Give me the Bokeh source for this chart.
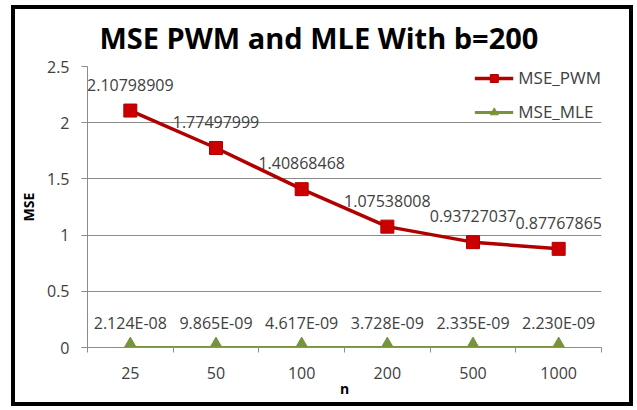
import numpy as np
from bokeh.plotting import figure
from bokeh.models import (ColumnDataSource, Range1d, FixedTicker, CustomJSTickFormatter,
                          Legend, LegendItem)
from bokeh.embed import file_html
from bokeh.resources import INLINE
from bokeh.core.properties import value

# ---- data ----
n_labels = ["25", "50", "100", "200", "500", "1000"]
mse_pwm = [2.10798909, 1.77497999, 1.40868468, 1.07538008, 0.93727037, 0.87767865]
mse_mle = [2.124e-08, 9.865e-09, 4.617e-09, 3.728e-09, 2.335e-09, 2.230e-09]
y_ticks = [0, 0.5, 1, 1.5, 2, 2.5]
title_text = "MSE PWM and MLE With b=200"

FONT = "Open Sans"
TXT = "#404040"
GRID = "#8c8c8c"
PWM_LINE = "#b00000"
PWM_FILL = "#cc0000"
MLE_COLOR = "#77933c"

W, H = 622, 401

x = np.arange(len(n_labels)) + 0.5
src = ColumnDataSource(dict(
    x=x, pwm=mse_pwm, mle=mse_mle,
    pwm_lbl=[f"{v:.8f}" for v in mse_pwm],
    mle_lbl=[f"{v:.3E}" for v in mse_mle],
))

p = figure(width=W, height=H, output_backend="svg", toolbar_location=None,
           x_range=Range1d(0, len(n_labels)), y_range=Range1d(0, y_ticks[-1]),
           min_border_left=68, min_border_right=36, min_border_top=57, min_border_bottom=63,
           title=title_text)
p.styles = {"border": "4px solid black", "margin-left": "11px", "margin-top": "5px"}
p.background_fill_color = "white"
p.border_fill_color = "white"
p.outline_line_color = None

p.title.align = "left"
p.title.vertical_align = "top"
p.title.offset = 12
p.title.standoff = 16
p.title.text_font = FONT
p.title.text_font_size = "29px"
p.title.text_font_style = "bold"
p.title.text_color = "black"

# lines + markers
l1 = p.line("x", "pwm", source=src, line_color=PWM_LINE, line_width=3.5)
m1 = p.scatter("x", "pwm", source=src, marker="square", size=13,
               fill_color=PWM_FILL, line_color=PWM_LINE)
l2 = p.line("x", "mle", source=src, line_color=MLE_COLOR, line_width=3)
m2 = p.scatter("x", "mle", source=src, marker="triangle", size=18,
               fill_color=MLE_COLOR, line_color=MLE_COLOR)

# data labels
p.text("x", "pwm", text="pwm_lbl", source=src, text_align="center", text_baseline="middle",
       y_offset=-26, text_font=value(FONT), text_font_size="16px", text_color=TXT)
p.text("x", "mle", text="mle_lbl", source=src, text_align="center", text_baseline="middle",
       y_offset=-25, text_font=value(FONT), text_font_size="16px", text_color=TXT)

# axes
xa = p.xaxis[0]
xa.ticker = FixedTicker(ticks=list(x), minor_ticks=list(range(len(n_labels) + 1)))
xa.formatter = CustomJSTickFormatter(args=dict(labels=n_labels),
                                     code="return labels[Math.floor(tick)];")
xa.major_tick_out = 0
xa.major_tick_in = 0
xa.minor_tick_out = 5
xa.minor_tick_in = 0
xa.minor_tick_line_color = GRID
xa.axis_line_color = GRID
xa.major_label_standoff = 14
xa.axis_label = "n"
xa.axis_label_standoff = -3

ya = p.yaxis[0]
ya.ticker = FixedTicker(ticks=y_ticks, minor_ticks=[])
ya.formatter = CustomJSTickFormatter(code="return tick.toString();")
ya.major_tick_out = 6
ya.major_tick_in = 0
ya.major_tick_line_color = GRID
ya.axis_line_color = GRID
ya.major_label_standoff = 12
ya.axis_label = "MSE"
ya.axis_label_standoff = 6

for ax in (xa, ya):
    ax.major_label_text_font = FONT
    ax.major_label_text_font_size = "16px"
    ax.major_label_text_color = TXT
    ax.axis_label_text_font = FONT
    ax.axis_label_text_font_size = "14px"
    ax.axis_label_text_font_style = "bold"
    ax.axis_label_text_color = "black"

p.xgrid.visible = False
p.ygrid.grid_line_color = GRID
p.ygrid.grid_line_width = 1

legend = Legend(items=[LegendItem(label="MSE_PWM", renderers=[l1, m1]),
                       LegendItem(label="MSE_MLE", renderers=[l2, m2])],
                location="top_right")
legend.border_line_color = None
legend.background_fill_alpha = 0
legend.label_text_font = FONT
legend.label_text_font_size = "17px"
legend.label_text_color = TXT
legend.glyph_width = 39
legend.glyph_height = 20
legend.label_standoff = 5
legend.spacing = 11
legend.padding = 2
legend.margin = 0
p.add_layout(legend)

open("out.html", "w").write(file_html(p, INLINE))
